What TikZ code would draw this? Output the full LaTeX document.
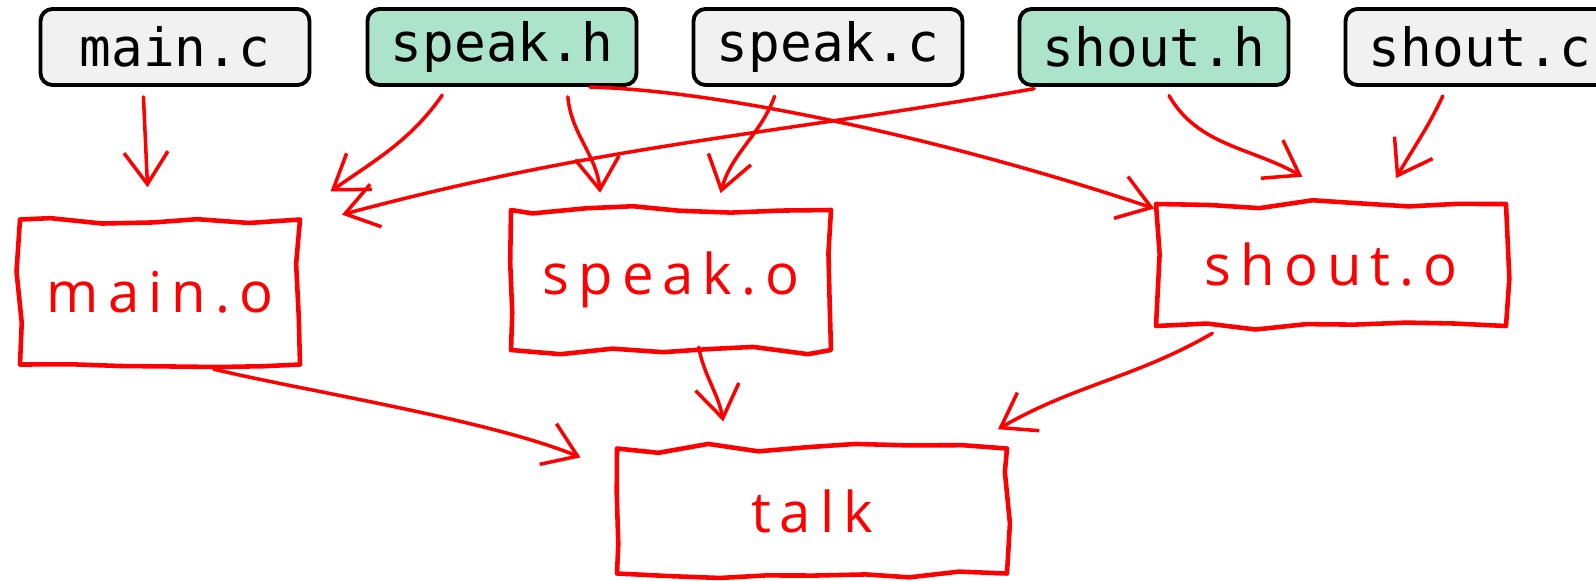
\documentclass[tikz,border=0pt]{standalone}
\usepackage{fontspec}
\usetikzlibrary{arrows.meta,decorations.pathmorphing}
\newfontfamily\codefont{DejaVu Sans Mono}
\newfontfamily\handfont[LetterSpace=16]{Open Sans}
\definecolor{srcgray}{HTML}{F1F1F1}
\definecolor{hdrgreen}{HTML}{ACE3CB}
\definecolor{ink}{HTML}{FF0000}

\begin{document}
\begin{tikzpicture}[
  >={Straight Barb[length=3.2mm,width=4.4mm]},
  src/.style={draw=black,line width=1.1pt,fill=srcgray,rounded corners=0.12cm,
    minimum width=2.69cm,minimum height=0.76cm,inner sep=0pt,
    font=\codefont\fontsize{15}{18}\selectfont},
  hdr/.style={src,fill=hdrgreen},
  obj/.style={draw=ink,line width=1.3pt,line join=round,text=ink,
    font=\handfont\fontsize{16}{19}\selectfont,
    decorate,decoration={random steps,segment length=14pt,amplitude=1.4pt}},
  dep/.style={draw=ink,line width=1pt,line cap=round,->,shorten <=1mm,shorten >=1mm}
]
\pgfmathsetseed{11}
\clip (0,0) rectangle (15.96,-5.80);
% --- sources and headers ---------------------------------------------------
\node[src] (mainc)  at (1.75,-0.47)  {main.c};
\node[hdr] (speakh) at (5.02,-0.47)  {speak.h};
\node[src] (speakc) at (8.28,-0.47)  {speak.c};
\node[hdr] (shouth) at (11.54,-0.47) {shout.h};
\node[src] (shoutc) at (14.80,-0.47) {shout.c};
% --- objects and the program (drawn by hand) -------------------------------
\node[obj,minimum width=2.8cm,minimum height=1.45cm]  (maino)  at (1.60,-2.92) {main.o};
\node[obj,minimum width=3.2cm,minimum height=1.40cm]  (speako) at (6.71,-2.80) {speak.o};
\node[obj,minimum width=3.5cm,minimum height=1.22cm]  (shouto) at (13.31,-2.65) {shout.o};
\node[obj,minimum width=3.9cm,minimum height=1.25cm]  (talk)   at (8.12,-5.11) {talk};
% --- compile step ----------------------------------------------------------
\draw[dep] ([xshift=-3.2mm]mainc.south) -- ([xshift=-1.2mm,yshift=2mm]maino.north);
\draw[dep] ([xshift=-5.4mm]speakh.south) to[out=-125,in=35] ([xshift=0.2cm,yshift=2mm]maino.north east);
\draw[dep] ([xshift=-11mm]shouth.south) to[out=-170,in=15] ([xshift=0.3cm]maino.north east);
\draw[dep] ([xshift=6.5mm]speakh.south) to[out=-85,in=95] ([xshift=-7mm,yshift=0.5mm]speako.north);
\draw[dep] ([xshift=-5mm]speakc.south) to[out=-110,in=75] ([xshift=4.7mm,yshift=0.5mm]speako.north);
\draw[dep] ([xshift=7.8mm]speakh.south) .. controls (7.2,-0.9) and (9.5,-1.4) .. ([xshift=0.1cm,yshift=-1mm]shouto.north west);
\draw[dep] ([xshift=1mm]shouth.south) to[out=-60,in=150] ([xshift=-2mm,yshift=2mm]shouto.north);
\draw[dep] ([xshift=-3.3mm]shoutc.south) to[out=-115,in=60] ([xshift=6mm,yshift=1.5mm]shouto.north);
% --- link step -------------------------------------------------------------
\draw[dep] ([xshift=4.4mm]maino.south) .. controls (3.0,-3.9) and (4.9,-4.2) .. ([xshift=-2.5mm,yshift=-1.5mm]talk.north west);
\draw[dep] ([xshift=2.6mm,yshift=1.5mm]speako.south) to[out=-80,in=100] ([xshift=-8.7mm,yshift=1.5mm]talk.north);
\draw[dep] ([xshift=-11mm]shouto.south) to[out=-150,in=30] ([xshift=-0.2cm,yshift=1.2mm]talk.north east);
\end{tikzpicture}
\end{document}
